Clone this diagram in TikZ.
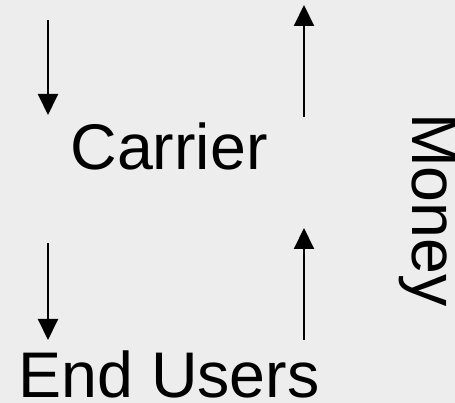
\documentclass[tikz,border=0pt]{standalone}
\usepackage{fontspec}
\setmainfont{Liberation Sans}
\usetikzlibrary{arrows.meta}
\definecolor{paper}{RGB}{237,237,237}

\tikzset{
  flow/.style={line width=2pt,-{Triangle[width=20pt,length=21pt]}},
  word/.style={inner sep=0pt,anchor=base,font=\fontsize{64.5}{70}\selectfont}
}

\begin{document}
\begin{tikzpicture}[x=1pt,y=1pt]
    \fill[paper] (0,0) rectangle (455,403);
    \useasboundingbox (0,0) rectangle (455,403);
    \node[word] (carrier) at (169,233) {Carrier};
    \node[word] (users) at (169,5) {End Users};
    \node[word,rotate=-90] (money) at (412,193) {Money};
    % left column: flow downwards
    \coordinate (topin) at (48,383);
    \coordinate (topout) at (48,288);
    \coordinate (midin) at (48,160);
    \coordinate (midout) at (48,63);
    \draw[flow] (topin) -- (topout);
    \draw[flow] (midin) -- (midout);
    % right column: money back up
    \coordinate (upfrom) at (304,63);
    \coordinate (upto) at (304,175);
    \coordinate (topfrom) at (304,286);
    \coordinate (topto) at (304,398);
    \draw[flow] (upfrom) -- (upto);
    \draw[flow] (topfrom) -- (topto);
  \end{tikzpicture}
\end{document}
